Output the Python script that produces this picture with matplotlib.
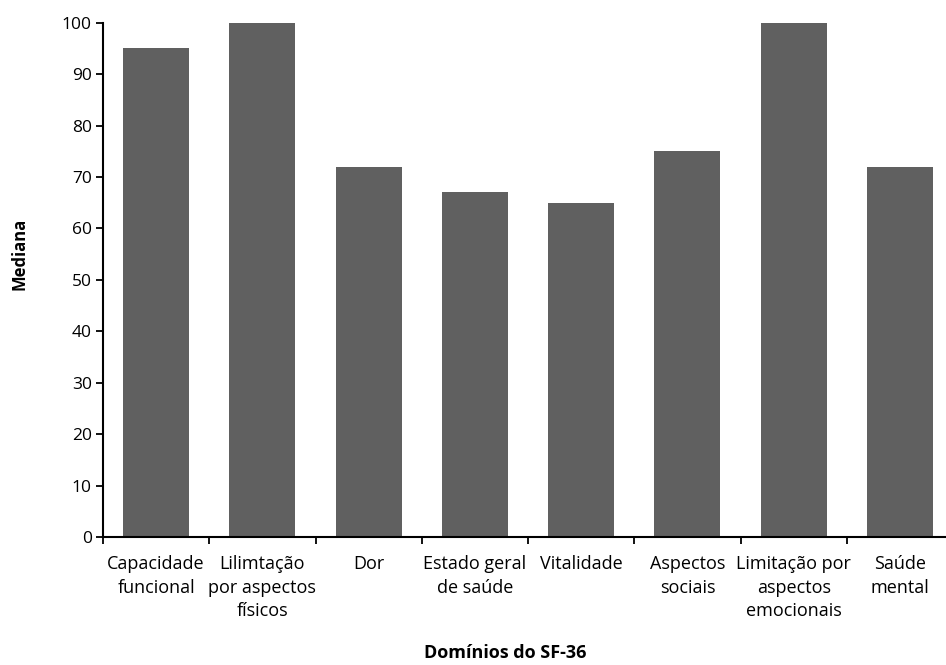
import numpy as np
import matplotlib.pyplot as plt
from matplotlib.ticker import FixedLocator, NullFormatter

# Medianas dos dominios do SF-36
dominios = ['Capacidade\nfuncional', 'Lilimtação\npor aspectos\nfísicos', 'Dor',
            'Estado geral\nde saúde', 'Vitalidade', 'Aspectos\nsociais',
            'Limitação por\naspectos\nemocionais', 'Saúde\nmental']
medianas = [95, 100, 72, 67, 65, 75, 100, 72]
yticks = [0, 10, 20, 30, 40, 50, 60, 70, 80, 90, 100]

plt.rcParams['font.family'] = ['Open Sans', 'DejaVu Sans']

fig = plt.figure(figsize=(9.46, 6.65), dpi=100)
ax = fig.add_axes([103 / 946, 1 - 537 / 665, 850 / 946, (537 - 22.7) / 665])

x = np.arange(len(dominios))
ax.bar(x, medianas, width=0.62, color='#606060', zorder=2)

ax.set_xlim(-0.5, len(dominios) - 0.5)
ax.set_ylim(0, 100)

ax.set_yticks(yticks)
ax.tick_params(axis='y', direction='out', length=5, width=1.3, labelsize=12.5, pad=3)

# ticks nas fronteiras entre categorias, rotulos no centro
ax.xaxis.set_major_locator(FixedLocator(np.arange(len(dominios) + 1) - 0.5))
ax.xaxis.set_major_formatter(NullFormatter())
ax.xaxis.set_minor_locator(FixedLocator(x))
ax.set_xticklabels(dominios, minor=True, fontsize=13, linespacing=1.4)
ax.tick_params(axis='x', which='major', direction='out', length=5, width=1.3)
ax.tick_params(axis='x', which='minor', length=0, pad=13)

for side in ['top', 'right']:
    ax.spines[side].set_visible(False)
for side in ['left', 'bottom']:
    ax.spines[side].set_linewidth(1.5)

fig.text(20 / 946, 1 - 254 / 665, 'Mediana', rotation=90, ha='center', va='center',
         fontsize=12, fontweight='bold')
fig.text(505 / 946, 1 - 658 / 665, 'Domínios do SF-36', ha='center', va='baseline',
         fontsize=13, fontweight='bold')

fig.savefig('out.png', dpi=100)
